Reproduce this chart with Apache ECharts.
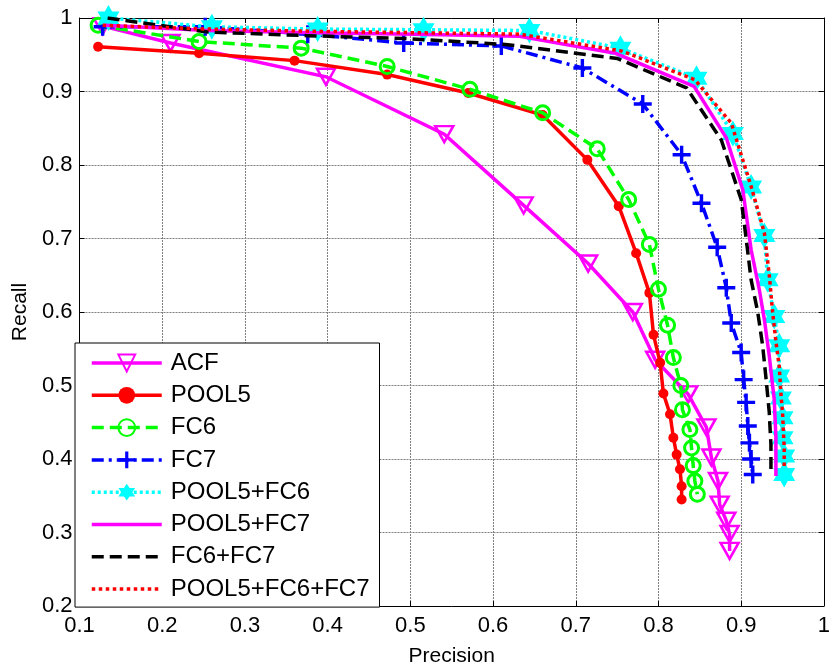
<!DOCTYPE html>
<html><head><meta charset="utf-8">
<script src="https://cdn.jsdelivr.net/npm/echarts@6/dist/echarts.min.js"></script>
<style>html,body{margin:0;padding:0;background:#fff}#c{width:833px;height:672px}</style>
</head><body><div id="c"></div>
<script>
// ---- data ----
const seriesNames = ['ACF', 'POOL5', 'FC6', 'FC7', 'POOL5+FC6', 'POOL5+FC7', 'FC6+FC7', 'POOL5+FC6+FC7'];
const xTickLabels = ['0.1', '0.2', '0.3', '0.4', '0.5', '0.6', '0.7', '0.8', '0.9', '1'];
const yTickLabels = ['0.2', '0.3', '0.4', '0.5', '0.6', '0.7', '0.8', '0.9', '1'];
const xAxisTitle = 'Precision';
const yAxisTitle = 'Recall';

const acfPrecision = [0.128, 0.21, 0.398, 0.541, 0.637, 0.715, 0.769, 0.796, 0.836, 0.858, 0.864, 0.872, 0.874, 0.882, 0.886, 0.886];
const acfRecall    = [0.989, 0.966, 0.92, 0.842, 0.745, 0.666, 0.600, 0.535, 0.488, 0.443, 0.402, 0.370, 0.338, 0.316, 0.298, 0.275];

const pool5Precision = [0.1225, 0.2445, 0.36, 0.472, 0.570, 0.660, 0.714, 0.752, 0.773, 0.789, 0.794, 0.802, 0.806, 0.814, 0.818, 0.822, 0.826, 0.828, 0.828];
const pool5Recall    = [0.961, 0.952, 0.942, 0.923, 0.898, 0.868, 0.807, 0.744, 0.680, 0.626, 0.569, 0.531, 0.489, 0.461, 0.429, 0.406, 0.386, 0.363, 0.345];

const fc6Precision = [0.1225, 0.2445, 0.368, 0.472, 0.572, 0.660, 0.726, 0.764, 0.789, 0.800, 0.811, 0.818, 0.827, 0.829, 0.838, 0.840, 0.842, 0.844, 0.847];
const fc6Recall    = [0.990, 0.968, 0.959, 0.934, 0.903, 0.871, 0.822, 0.753, 0.692, 0.631, 0.582, 0.538, 0.500, 0.467, 0.440, 0.415, 0.391, 0.370, 0.352];

const fc7Precision = [0.128, 0.252, 0.376, 0.492, 0.610, 0.708, 0.781, 0.828, 0.852, 0.871, 0.882, 0.888, 0.900, 0.903, 0.906, 0.908, 0.910, 0.912, 0.914];
const fc7Recall    = [0.988, 0.988, 0.978, 0.966, 0.962, 0.932, 0.883, 0.814, 0.748, 0.688, 0.633, 0.585, 0.545, 0.508, 0.477, 0.445, 0.422, 0.400, 0.379];

const p5fc6Precision = [0.135, 0.260, 0.388, 0.516, 0.644, 0.754, 0.846, 0.890, 0.912, 0.928, 0.932, 0.940, 0.946, 0.946, 0.948, 0.950, 0.950, 0.952, 0.952];
const p5fc6Recall    = [1.000, 0.988, 0.985, 0.984, 0.983, 0.959, 0.918, 0.843, 0.770, 0.704, 0.644, 0.594, 0.554, 0.513, 0.483, 0.456, 0.429, 0.404, 0.379];

const p5fc7Precision = [0.130, 0.255, 0.380, 0.505, 0.632, 0.748, 0.843, 0.882, 0.902, 0.912, 0.922, 0.928, 0.934, 0.938, 0.940, 0.941, 0.942, 0.942, 0.942];
const p5fc7Recall    = [0.990, 0.983, 0.980, 0.978, 0.975, 0.952, 0.907, 0.837, 0.766, 0.685, 0.630, 0.590, 0.540, 0.500, 0.481, 0.455, 0.430, 0.400, 0.377];

const fc6fc7Precision = [0.134, 0.255, 0.375, 0.495, 0.615, 0.750, 0.834, 0.876, 0.900, 0.906, 0.912, 0.920, 0.926, 0.930, 0.934, 0.935, 0.936, 0.936, 0.936];
const fc6fc7Recall    = [1.000, 0.981, 0.976, 0.972, 0.964, 0.945, 0.905, 0.834, 0.753, 0.700, 0.644, 0.600, 0.554, 0.510, 0.463, 0.440, 0.420, 0.400, 0.381];

const allPrecision = [0.128, 0.255, 0.380, 0.505, 0.632, 0.756, 0.844, 0.888, 0.912, 0.928, 0.934, 0.938, 0.942, 0.946, 0.948, 0.950, 0.951, 0.952, 0.952];
const allRecall    = [0.990, 0.985, 0.982, 0.980, 0.978, 0.955, 0.916, 0.857, 0.771, 0.708, 0.650, 0.600, 0.560, 0.526, 0.490, 0.463, 0.440, 0.415, 0.390];

// ---- build ----
const pairs = (xs, ys) => xs.map((x, i) => [x, ys[i]]);
const FONT = 'Liberation Sans, Arial, sans-serif';
const TRANS = 'rgba(0,0,0,0)';
const triDown = 'path://M-9,-7 L9,-7 L0,9 Z';
const plus = 'path://M-1.7,-9 H1.7 V-1.7 H9 V1.7 H1.7 V9 H-1.7 V1.7 H-9 V-1.7 H-1.7 Z';
const hexagram = 'path://M0,-100 L28.87,-50 L86.6,-50 L57.7,0 L86.6,50 L28.87,50 L0,100 L-28.87,50 L-86.6,50 L-57.7,0 L-86.6,-50 L-28.87,-50 Z';

const specs = [
  {x: acfPrecision, y: acfRecall, color: '#ff00ff', type: 'solid', symbol: triDown, size: [18, 16], fill: TRANS, bw: 2.5},
  {x: pool5Precision, y: pool5Recall, color: '#ff0000', type: 'solid', symbol: 'circle', size: 10, fill: '#ff0000', bw: 0},
  {x: fc6Precision, y: fc6Recall, color: '#00ff00', type: [12, 6], symbol: 'circle', size: 14, fill: TRANS, bw: 3},
  {x: fc7Precision, y: fc7Recall, color: '#0000ff', type: [12, 5, 3, 5], symbol: plus, size: 18, fill: '#0000ff', bw: 0},
  {x: p5fc6Precision, y: p5fc6Recall, color: '#00ffff', type: [3, 3], symbol: hexagram, size: [22, 26], fill: '#00ffff', bw: 0},
  {x: p5fc7Precision, y: p5fc7Recall, color: '#ff00ff', type: 'solid', symbol: null},
  {x: fc6fc7Precision, y: fc6fc7Recall, color: '#000000', type: [12, 6], symbol: null},
  {x: allPrecision, y: allRecall, color: '#ff0000', type: [3.5, 3.5], symbol: null}
];

const series = specs.map((s, i) => ({
  name: seriesNames[i],
  type: 'line',
  data: pairs(s.x, s.y),
  xAxisIndex: 0, yAxisIndex: 0,
  symbol: s.symbol || 'circle',
  showSymbol: !!s.symbol,
  symbolSize: s.size || 0,
  lineStyle: {color: s.color, width: 3.5, type: s.type, cap: 'butt', join: 'miter'},
  itemStyle: s.symbol ? {color: s.fill, borderColor: s.color, borderWidth: s.bw} : {color: TRANS, borderColor: TRANS, borderWidth: 0},
  emphasis: {disabled: true},
  silent: true,
  z: 2 + i
}));

const xFmt = v => xTickLabels[Math.round((v - 0.1) / 0.1)] || '';
const yFmt = v => yTickLabels[Math.round((v - 0.2) / 0.1)] || '';

const axisCommon = {
  type: 'value', interval: 0.1,
  axisLine: {show: true, onZero: false, lineStyle: {color: '#000', width: 1}},
  axisTick: {show: true, inside: true, length: 5, lineStyle: {color: '#000', width: 1}},
  splitLine: {show: false}
};

const option = {
  animation: false,
  backgroundColor: '#fff',
  grid: {left: 79.5, top: 18, right: 3, bottom: 65, containLabel: false},
  xAxis: [
    Object.assign({}, axisCommon, {
      position: 'bottom', min: 0.1, max: 1,
      axisLabel: {show: true, formatter: xFmt, fontSize: 22, fontFamily: FONT, color: '#000', margin: 9},
      splitLine: {show: true, lineStyle: {color: '#7f7f7f', width: 1, type: [2, 1]}},
      name: xAxisTitle, nameLocation: 'middle', nameGap: 40,
      nameTextStyle: {fontSize: 21, fontFamily: FONT, color: '#000'}
    }),
    Object.assign({}, axisCommon, {position: 'top', min: 0.1, max: 1, axisLabel: {show: false}})
  ],
  yAxis: [
    Object.assign({}, axisCommon, {
      position: 'left', min: 0.2, max: 1,
      axisLabel: {show: true, formatter: yFmt, fontSize: 22, fontFamily: FONT, color: '#000', margin: 7},
      splitLine: {show: true, lineStyle: {color: '#7f7f7f', width: 1, type: [2, 1]}},
      name: yAxisTitle, nameLocation: 'middle', nameGap: 41, nameRotate: 90,
      nameTextStyle: {fontSize: 21, fontFamily: FONT, color: '#000'}
    }),
    Object.assign({}, axisCommon, {position: 'right', min: 0.2, max: 1, axisLabel: {show: false}})
  ],
  legend: {
    show: true, orient: 'vertical', left: 75, top: 343,
    backgroundColor: '#fff', borderColor: '#000', borderWidth: 1,
    padding: [8, 10, 6, 15], itemWidth: 70, itemHeight: 21, itemGap: 8.3,
    selectedMode: false, z: 20,
    lineStyle: {width: 3.5},
    textStyle: {fontSize: 24, fontFamily: FONT, color: '#000', padding: [0, 0, 0, 4]},
    data: seriesNames.map((n, i) => specs[i].symbol ? n :
      {name: n, itemStyle: {color: TRANS, borderColor: TRANS, borderWidth: 0}})
  },
  series: series
};

const chart = echarts.init(document.getElementById('c'), null, {renderer: 'canvas'});
chart.setOption(option);
</script>
</body></html>
